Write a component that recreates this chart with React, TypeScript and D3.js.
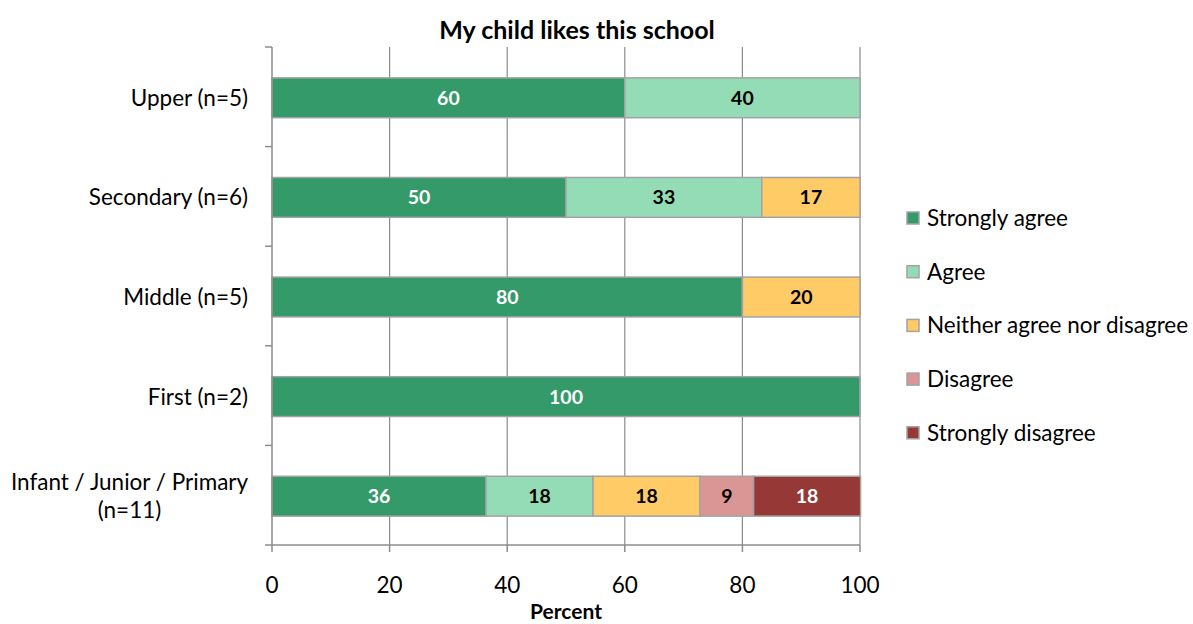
import React from "react";
import * as d3 from "d3";

const categories = ["Upper (n=5)", "Secondary (n=6)", "Middle (n=5)", "First (n=2)", "Infant / Junior / Primary (n=11)"];
const seriesNames = ["Strongly agree", "Agree", "Neither agree nor disagree", "Disagree", "Strongly disagree"];
const seriesColors = ["#359a69", "#93dcb6", "#ffcb66", "#d99694", "#953836"];
const labelColors = ["#ffffff", "#000000", "#000000", "#000000", "#ffffff"];

const stronglyAgree = [60, 50, 80, 100, 36.4];
const agree = [40, 33.3, 0, 0, 18.2];
const neither = [0, 16.7, 20, 0, 18.2];
const disagree = [0, 0, 0, 0, 9.1];
const stronglyDisagree = [0, 0, 0, 0, 18.2];

const xTicks = [0, 20, 40, 60, 80, 100];

const W = 1193;
const H = 624;
const FONT = "Lato, 'Open Sans', sans-serif";
const TXT = 22.5;

export default function App() {
  const margin = { left: 272, right: 333, top: 47, bottom: 79 };
  const x = d3.scaleLinear().domain([0, 100]).range([margin.left, W - margin.right]);
  const y = d3.scaleBand<string>().domain(categories).range([margin.top, H - margin.bottom]).paddingInner(0.6).paddingOuter(0.3);
  const band = d3.scaleBand<string>().domain(categories).range([margin.top, H - margin.bottom]);

  const rows = categories.map((c, i) => ({
    cat: c,
    s0: stronglyAgree[i],
    s1: agree[i],
    s2: neither[i],
    s3: disagree[i],
    s4: stronglyDisagree[i],
  }));
  const stack = d3.stack<any>().keys(["s0", "s1", "s2", "s3", "s4"])(rows);

  const plotTop = margin.top;
  const plotBottom = H - margin.bottom;
  const bandEdges = categories.map((c) => band(c)!).concat([plotBottom]);

  return (
    <svg width={W} height={H} style={{ position: "absolute", left: 0, top: 0, background: "#fff" }}>
      {/* title */}
      <text x={577} y={39} textAnchor="middle" fontFamily={FONT} fontWeight="bold" fontSize={25} fill="#000">
        My child likes this school
      </text>

      {/* vertical gridlines */}
      {xTicks.slice(1).map((t) => (
        <line key={t} x1={x(t)} x2={x(t)} y1={plotTop} y2={plotBottom} stroke="#8c8c8c" strokeWidth={1.2} />
      ))}

      {/* stacked bars */}
      {stack.map((layer, si) =>
        layer.map((d, ci) => {
          const w = x(d[1]) - x(d[0]);
          if (w <= 0) return null;
          const val = d[1] - d[0];
          const yy = y(categories[ci])! + 1;
          return (
            <g key={`${si}-${ci}`}>
              <rect x={x(d[0])} y={yy} width={w} height={y.bandwidth()} fill={seriesColors[si]} stroke="#a3a3a3" strokeWidth={1.5} />
              <text
                x={x(d[0]) + w / 2}
                y={yy + y.bandwidth() / 2 + 7}
                textAnchor="middle"
                fontFamily={FONT}
                fontWeight="bold"
                fontSize={19.5}
                fill={labelColors[si]}
              >
                {d3.format(".0f")(val)}
              </text>
            </g>
          );
        })
      )}

      {/* y axis */}
      <line x1={margin.left} x2={margin.left} y1={plotTop} y2={plotBottom} stroke="#8c8c8c" strokeWidth={1.5} />
      {bandEdges.map((e, i) => (
        <line key={i} x1={margin.left - 7} x2={margin.left} y1={e} y2={e} stroke="#8c8c8c" strokeWidth={1.5} />
      ))}
      {categories.map((c, i) => {
        const cy = y(c)! + y.bandwidth() / 2 + 1;
        if (i === categories.length - 1) {
          return (
            <text key={c} textAnchor="middle" fontFamily={FONT} fontSize={TXT} fill="#000">
              <tspan x={129.5} y={cy - 6}>Infant / Junior / Primary</tspan>
              <tspan x={129.5} y={cy + 22}>(n=11)</tspan>
            </text>
          );
        }
        return (
          <text key={c} x={248} y={cy + 8} textAnchor="end" fontFamily={FONT} fontSize={TXT} fill="#000">
            {c}
          </text>
        );
      })}

      {/* x axis */}
      <line x1={margin.left} x2={x(100)} y1={plotBottom} y2={plotBottom} stroke="#8c8c8c" strokeWidth={1.5} />
      {xTicks.map((t) => (
        <g key={t}>
          <line x1={x(t)} x2={x(t)} y1={plotBottom} y2={plotBottom + 7} stroke="#8c8c8c" strokeWidth={1.5} />
          <text x={x(t)} y={593} textAnchor="middle" fontFamily={FONT} fontSize={TXT} fill="#000">
            {t}
          </text>
        </g>
      ))}
      <text x={566} y={619} textAnchor="middle" fontFamily={FONT} fontWeight="bold" fontSize={21} fill="#000">
        Percent
      </text>

      {/* legend */}
      {seriesNames.map((n, i) => {
        const ly = 218 + i * 53.7;
        return (
          <g key={n}>
            <rect x={907} y={ly - 6} width={12} height={12} fill={seriesColors[i]} stroke="#a3a3a3" strokeWidth={1.5} />
            <text x={927} y={ly + 8} fontFamily={FONT} fontSize={TXT} fill="#000">
              {n}
            </text>
          </g>
        );
      })}
    </svg>
  );
}
